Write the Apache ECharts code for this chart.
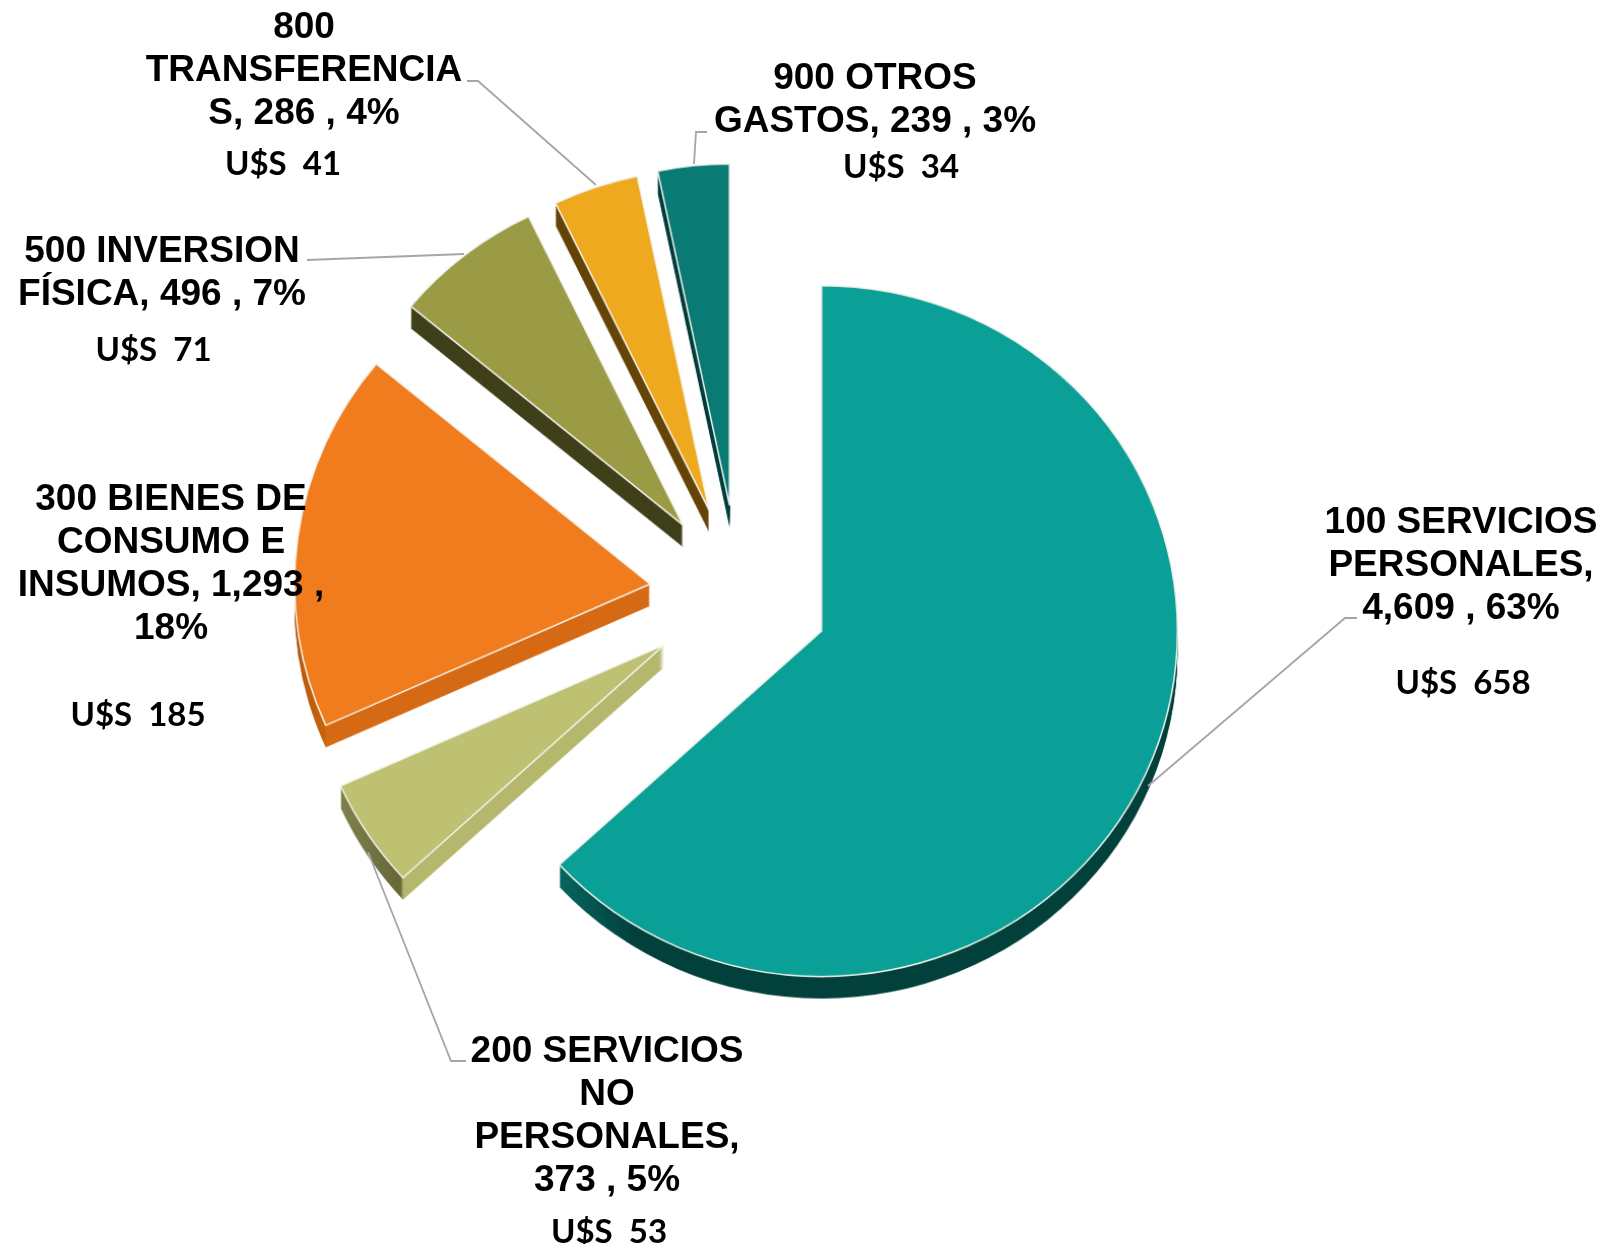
<!DOCTYPE html>
<html>
<head>
<meta charset="utf-8">
<style>
html,body{margin:0;padding:0;background:#fff}
#stage{position:relative;width:1604px;height:1244px;overflow:hidden}
#pies{position:absolute;left:0;top:0;transform-origin:0 0}
#texts{position:absolute;left:0;top:0;width:1604px;height:1244px}
</style>
<script src="https://cdn.jsdelivr.net/npm/echarts@6/dist/echarts.min.js"></script>
</head>
<body>
<div id="stage"><div id="pies"></div><div id="texts"></div></div>
<script>
const categories = ['100 SERVICIOS PERSONALES','200 SERVICIOS NO PERSONALES','300 BIENES DE CONSUMO E INSUMOS','500 INVERSION FÍSICA','800 TRANSFERENCIAS','900 OTROS GASTOS'];
const values = [4609, 373, 1293, 496, 286, 239];
const labelTexts = [
  '100 SERVICIOS\nPERSONALES,\n4,609 , 63%',
  '200 SERVICIOS\nNO\nPERSONALES,\n373 , 5%',
  '300 BIENES DE\nCONSUMO E\nINSUMOS, 1,293 ,\n18%',
  '500 INVERSION\nFÍSICA, 496 , 7%',
  '800\nTRANSFERENCIA\nS, 286 , 4%',
  '900 OTROS\nGASTOS, 239 , 3%'
];
const usdLabels = ['U$S  658','U$S  53','U$S  185','U$S  71','U$S  41','U$S  34'];
const topColors = ['#0AA097','#BEC172','#F07C1E','#9B9B45','#EFA91E','#0A7A75'];

// layout per slice (page pixels); the pie is drawn with a slight perspective squash
const sx = 1.0157, sy = 0.9857;
const centers = [[821.5,631],[664,645],[650,584],[683,525],[709,510],[729.5,505]];
const radii = [350.5,349,350,348,346,346];
const depth = 22;
const grad = (stops) => ({type:'linear',x:0,y:0,x2:1,y2:0,colorStops:stops.map(s=>({offset:s[0],color:s[1]}))});
const wallColors = [
  grad([[0,'#06665e'],[0.12,'#02403c'],[1,'#02403c']]),
  grad([[0,'#7f814d'],[0.185,'#666838'],[0.195,'#b5b76c'],[1,'#b5b76c']]),
  grad([[0,'#b85a0c'],[0.085,'#c8620f'],[0.09,'#d66a14'],[1,'#d66a14']]),
  '#3f3f1a','#65440a','#023f3c'
];
const labelPos = [[1461,566],[607,1116],[171,564],[162,273],[304,71],[875,100]];
const usdPos = [[1463,683],[609,1232],[138,715],[153.5,350],[283,164],[901,167]];
const leaders = [
  [[1357,618],[1345,618],[1148,786]],
  [[368,852],[451,1061],[466,1061]],
  [[464,254],[307,260]],
  [[596,185],[478,81],[467,81]],
  [[694,164],[696,132],[707,132]]
];

const hidden = {color:'rgba(0,0,0,0)',borderWidth:0};
function pieFor(i, dy, style){
  return {
    type:'pie', silent:true, animation:false, startAngle:90, clockwise:true,
    center:[centers[i][0]/sx,(centers[i][1]+dy)/sy], radius:[0,radii[i]],
    avoidLabelOverlap:false, labelLine:{show:false}, label:{show:false},
    emphasis:{disabled:true},
    data: categories.map((name,j)=>({name,value:values[j],itemStyle:j===i?style:hidden}))
  };
}
const pieSeries = [];
categories.forEach((_,i)=>{
  for(let k=depth;k>=2;k-=2) pieSeries.push(pieFor(i,k,{color:wallColors[i],borderWidth:0}));
});
categories.forEach((_,i)=>{
  pieSeries.push(pieFor(i,0,{color:topColors[i],borderColor:'#f4f4ee',borderWidth:1.5}));
});

// labels live in a second, unscaled layer so the text is not squashed
const labelSeries = categories.map((_,i)=>({
  type:'pie', silent:true, animation:false, startAngle:90, clockwise:true,
  center:centers[i], radius:[0,radii[i]],
  avoidLabelOverlap:false, labelLine:{show:false}, label:{show:false},
  labelLayout:{x:labelPos[i][0],y:labelPos[i][1],align:'center',verticalAlign:'middle'},
  emphasis:{disabled:true},
  data: categories.map((name,j)=>({
    name, value:values[j], itemStyle:hidden,
    label: j===i ? {
      show:true, position:'outside', formatter:labelTexts[i],
      color:'#000', fontFamily:'"Liberation Sans",Arial,sans-serif',
      fontWeight:'bold', fontSize:37, lineHeight:43, align:'center'
    } : {show:false}
  }))
}));

const graphic = [];
leaders.forEach(pts=>graphic.push({type:'polyline',z:10,silent:true,shape:{points:pts},style:{fill:null,stroke:'#a6a6a6',lineWidth:1.8}}));
usdLabels.forEach((t,i)=>graphic.push({type:'text',z:10,silent:true,x:usdPos[i][0],y:usdPos[i][1],
  style:{text:t,fill:'#000',font:'bold 33px Lato, "Open Sans", sans-serif',textAlign:'center',textVerticalAlign:'middle'}}));

const piesEl = document.getElementById('pies');
piesEl.style.width = Math.ceil(1604/sx)+'px';
piesEl.style.height = Math.ceil(1244/sy)+'px';
piesEl.style.transform = 'scale('+sx+','+sy+')';
echarts.init(piesEl).setOption({animation:false,backgroundColor:'#fff',series:pieSeries});
echarts.init(document.getElementById('texts')).setOption({animation:false,backgroundColor:'transparent',series:labelSeries,graphic});
</script>
</body>
</html>
